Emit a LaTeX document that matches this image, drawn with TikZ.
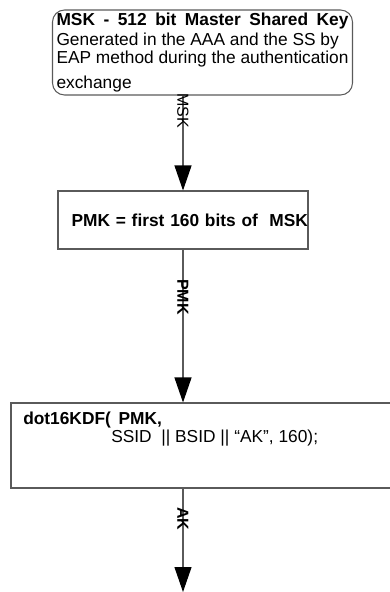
\documentclass[tikz,border=0pt]{standalone}
\usepackage{fontspec}
\setmainfont{Liberation Sans}
\usepackage{xcolor}
\usetikzlibrary{arrows.meta,positioning}

\definecolor{boxgray}{RGB}{90,90,90}

\tikzset{
  keybox/.style={draw=boxgray,line width=0.8pt,inner sep=0pt},
  flow/.style={draw=boxgray,line width=0.8pt,
    -{Triangle[length=18.75pt,width=12.75pt,fill=black,color=black]}},
  keylabel/.style={rotate=-90,inner sep=0pt,font=\fontsize{12}{14}\selectfont}
}

\begin{document}
\begin{tikzpicture}[x=0.75pt,y=-0.75pt]
  \useasboundingbox (0,0) rectangle (389,592);
  % boxes
  \node[keybox,rounded corners=9pt,minimum width=225pt,minimum height=63.75pt,
    align=left,font=\fontsize{13}{15}\selectfont] (msk) at (202.5,52.5)
    {\makebox[219pt][s]{\bfseries MSK - 512 bit Master Shared Key}\\[0pt]
     Generated in the AAA and the SS by\\[-1.5pt]
     EAP method during the authentication\\[3.75pt]
     exchange};
  \node[keybox,minimum width=187.5pt,minimum height=43.5pt,text width=187.5pt,
    align=right,font=\bfseries\fontsize{13}{15}\selectfont] (pmk) at (183,220)
    {PMK = first 160 bits of \ MSK};
  \node[keybox,minimum width=314.25pt,minimum height=63.75pt] (kdf) at (220.5,445.5) {};
  \node[anchor=north west,inner sep=0pt,align=left,font=\fontsize{13}{13.5}\selectfont]
    (kdftext) at (23,412)
    {\textbf{dot16KDF(\,\ PMK,}\\
     \hspace*{66pt}SSID \ || BSID || “AK”, 160);};
  \coordinate (akend) at (183,592);
  % arrows
  \draw[flow] (pmk.north |- msk.south) -- (pmk.north)
    node[keylabel,pos=0.19,xshift=-2.25pt] {MSK};
  \draw[flow] (pmk.south) -- (pmk.south |- kdf.north)
    node[keylabel,pos=0.33,xshift=-2.25pt,font=\bfseries\fontsize{12}{14}\selectfont] {PMK};
  \draw[flow] (pmk.south |- kdf.south) -- (akend)
    node[keylabel,pos=0.32,xshift=-2.25pt,font=\bfseries\fontsize{12}{14}\selectfont] {AK};
\end{tikzpicture}
\end{document}
